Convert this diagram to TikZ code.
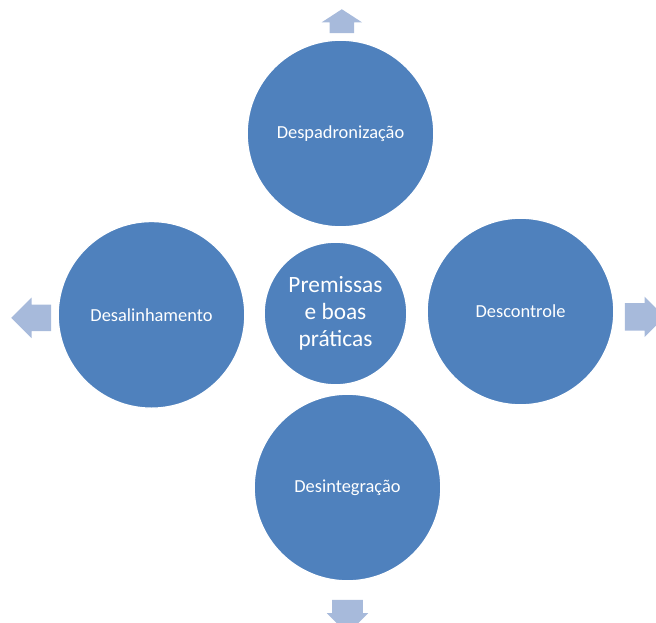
\documentclass[tikz,border=0pt]{standalone}
\usepackage{fontspec}
\setmainfont{Carlito}
\usepackage{tikz}
\usepackage{xcolor}
\usetikzlibrary{positioning,shapes.arrows}

\definecolor{circ-blue}{RGB}{79,129,189}
\definecolor{arrow-blue}{RGB}{167,186,219}

\begin{document}
\begin{tikzpicture}
[
x=0.75pt, y=-0.75pt,
circ-a/.style={circle, draw=white, line width=1pt, fill=circ-blue, text=white,
  minimum size=140pt, inner sep=0pt, font=\fontsize{13.8}{16.5}\selectfont},
circ-b/.style={circ-a, minimum size=107pt, align=center,
  font=\fontsize{17.5}{20.3}\selectfont},
arrow-a/.style={single arrow, draw=none, fill=arrow-blue, anchor=tail, inner xsep=0pt,
  inner ysep=9.75pt, minimum width=0pt, single arrow head extend=5.25pt}
]
\useasboundingbox (0,0) rectangle (656,622);

\node (core)       [circ-b]                                           at (335.5,313.5) {Premissas\\e boas\\práticas};
\node (circ-top)   [circ-a, above = 10.5pt of core, xshift=3.75pt]    {Despadronização};
\node (circ-left)  [circ-a, left  = 13.5pt of core, yshift=-1pt]     {Desalinhamento};
\node (circ-right) [circ-a, right = 14.25pt of core, yshift=1.5pt]   {Descontrole};
\node (circ-down)  [circ-a, below = 6pt of core, xshift=9pt]          {Desintegração};

% outward arrows, placed by their tails
\node (arr-top)   [arrow-a, rotate=90, minimum height=18pt, inner ysep=9pt, single arrow head extend=6pt,
                   single arrow tip angle=114]  at ([xshift=1pt, yshift=4.5pt]circ-top.north)   {};
\node (arr-left)  [arrow-a, rotate=180, minimum height=30pt] at ([xshift=-4.5pt, yshift=-2.25pt]circ-left.west)  {};
\node (arr-right) [arrow-a, minimum height=30pt, inner ysep=10.1pt, single arrow head extend=4.9pt]
                   at ([xshift=7.5pt, yshift=-4pt]circ-right.east)    {};
\node (arr-down)  [arrow-a, rotate=-90, minimum height=25.5pt, inner ysep=11.25pt,
                   single arrow head extend=4.1pt]  at ([yshift=-13.5pt]circ-down.south)  {};
\end{tikzpicture}
\end{document}
